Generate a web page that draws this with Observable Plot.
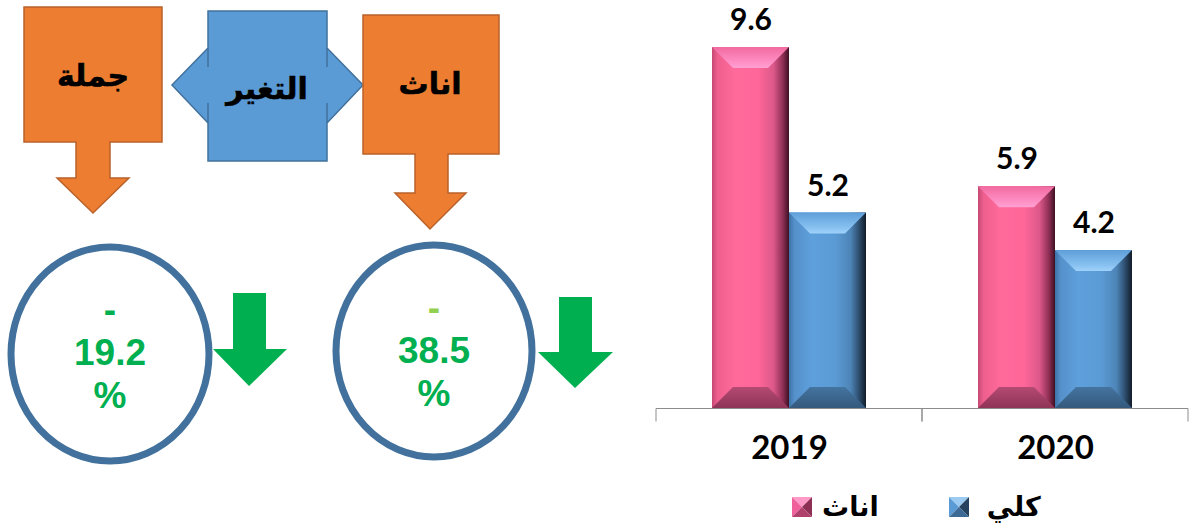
<!DOCTYPE html>
<html>
<head>
<meta charset="utf-8">
<script src="https://cdn.jsdelivr.net/npm/d3@7"></script>
<script src="https://cdn.jsdelivr.net/npm/@observablehq/plot@0.6"></script>
<style>
  html, body { margin: 0; padding: 0; background: #ffffff; }
  #wrap { position: relative; width: 1193px; height: 529px; background: #ffffff; overflow: hidden; }
  #info { position: absolute; left: 0; top: 0; }
  #chart { position: absolute; left: 640px; top: 0; }
  #legend { position: absolute; left: 792px; top: 491px; display: flex; align-items: center;
            font-family: "DejaVu Sans", sans-serif; font-weight: bold; font-size: 27px; color: #000; }
  #legend .item { display: flex; align-items: center; }
  #legend svg { display: block; }
</style>
</head>
<body>
<div id="wrap">
  <svg id="info" width="640" height="529"></svg>
  <div id="chart"></div>
  <div id="legend"></div>
</div>
<script>
// ---- data ----
const years = ["2019", "2020"];
const series = ["اناث", "كلي"];
const femaleValues = [9.6, 5.9];
const totalValues = [5.2, 4.2];

const headerLabel = "التغير";
const changeLabels = ["جملة", "اناث"];
const changeValues = [-19.2, -38.5];

const pink = "#FF6699";
const blue = "#5B9BD5";

const rows = years.flatMap((y, i) => [
  {year: y, series: series[0], value: femaleValues[i]},
  {year: y, series: series[1], value: totalValues[i]}
]);

// ---- bar chart ----
const chart = Plot.plot({
  width: 553,
  height: 480,
  marginLeft: 15,
  marginRight: 5,
  marginTop: 47,
  marginBottom: 72,
  facet: {data: rows, x: "year"},
  fx: {domain: years, padding: 0, axis: null},
  x: {domain: series, paddingInner: 0, paddingOuter: 0.727, axis: null},
  y: {domain: [0, 9.6], axis: null},
  color: {domain: series, range: [pink, blue]},
  style: {background: "transparent", overflow: "visible"},
  marks: [
    Plot.ruleY([0], {stroke: "#8c8c8c", strokeWidth: 1}),
    Plot.barY(rows, {x: "series", y: "value", fill: "series"}),
    Plot.text(rows, {x: "series", y: "value", text: d => d.value.toFixed(1), dy: -27,
      fontSize: 30, fontWeight: "bold", fontFamily: "Lato", fill: "#000"}),
    Plot.text(rows, {filter: d => d.series === series[0], frameAnchor: "bottom", text: "year",
      dy: 50, fontSize: 33, fontWeight: "bold", fontFamily: "Lato", fill: "#000"})
  ]
});
document.getElementById("chart").appendChild(chart);

// bevel styling
const cs = d3.select(chart);
const defs = cs.insert("defs", ":first-child");
function grad(id, stops, vertical) {
  const g = defs.append("linearGradient").attr("id", id)
    .attr("x1", 0).attr("y1", 0).attr("x2", vertical ? 0 : 1).attr("y2", vertical ? 1 : 0);
  stops.forEach(([o, c]) => g.append("stop").attr("offset", o).attr("stop-color", c));
}
grad("pinkSide", [[0, "#C44873"], [0.07, "#EE5F8E"], [0.3, "#FF6A9B"], [0.6, "#FF6699"], [0.8, "#DB5889"], [0.92, "#8E2F55"], [1, "#3E1022"]]);
grad("pinkTop", [[0, "#F06A9F"], [0.7, "#FF8EC4"], [1, "#FFA0D2"]], true);
grad("pinkBottom", [[0, "#B44A72"], [1, "#8F3457"]], true);
grad("blueSide", [[0, "#3C72A6"], [0.07, "#5590CA"], [0.3, "#5EA0DC"], [0.6, "#5B9BD5"], [0.8, "#4D84B6"], [0.92, "#2A4866"], [1, "#111C28"]]);
grad("blueTop", [[0, "#5E9ED8"], [0.7, "#86C0F0"], [1, "#9FD2FA"]], true);
grad("blueBottom", [[0, "#4474A0"], [1, "#34597C"]], true);

cs.selectAll('g[aria-label="bar"] rect').each(function() {
  const r = d3.select(this);
  const x = +r.attr("x"), y = +r.attr("y"), w = +r.attr("width"), h = +r.attr("height");
  const isPink = (r.attr("fill") || "").toLowerCase() === pink.toLowerCase();
  const k = isPink ? "pink" : "blue";
  r.attr("fill", `url(#${k}Side)`);
  const b = Math.min(21, w / 2, h / 2);
  const p = d3.select(this.parentNode);
  p.append("polygon")
    .attr("points", `${x},${y} ${x + w},${y} ${x + w - b},${y + b} ${x + b},${y + b}`)
    .attr("fill", `url(#${k}Top)`);
  p.append("polygon")
    .attr("points", `${x},${y + h} ${x + w},${y + h} ${x + w - b},${y + h - b} ${x + b},${y + h - b}`)
    .attr("fill", `url(#${k}Bottom)`);
});

// category ticks at the ends of each facet's axis line
cs.selectAll('g[aria-label="rule"] line').each(function() {
  const l = d3.select(this);
  const x1 = +l.attr("x1"), x2 = +l.attr("x2"), y = +l.attr("y1");
  const p = d3.select(this.parentNode);
  [x1, x2].forEach(xx => p.append("line")
    .attr("x1", xx).attr("x2", xx).attr("y1", y).attr("y2", y + 13)
    .attr("stroke", "#8c8c8c").attr("stroke-width", 1));
});

// ---- legend ----
const legend = d3.select("#legend");
const legendColors = {
  [series[0]]: ["#FF9AC8", "#F0609A", "#8E2F55", "#B0416C"],
  [series[1]]: ["#9CCBF2", "#5B9BD5", "#25425F", "#3D6A94"]
};
series.forEach((s, i) => {
  const item = legend.append("div").attr("class", "item").style("margin-right", i === 0 ? "70px" : "0");
  const sv = item.append("svg").attr("width", 20).attr("height", 20);
  const [top, left, right, bottom] = legendColors[s];
  sv.append("polygon").attr("points", "0,0 20,0 10,10").attr("fill", top);
  sv.append("polygon").attr("points", "0,0 10,10 0,20").attr("fill", left);
  sv.append("polygon").attr("points", "20,0 20,20 10,10").attr("fill", right);
  sv.append("polygon").attr("points", "0,20 10,10 20,20").attr("fill", bottom);
  item.append("span").style("margin-left", i === 0 ? "10px" : "18px").text(s);
});

// ---- change infographic ----
const info = d3.select("#info");
const orange = "#ED7D31", orangeStroke = "#B9622A";
const calloutBlue = "#5B9BD5", calloutBlueStroke = "#41719C";

info.append("path")
  .attr("d", "M208,11H327V48L363,85L327,123V161H208V123L172,85L208,48Z")
  .attr("fill", calloutBlue).attr("stroke", calloutBlueStroke).attr("stroke-width", 1.5);
[[208, 48, 67], [208, 103, 123], [327, 48, 67], [327, 103, 123]].forEach(([x, a, b]) =>
  info.append("line").attr("x1", x).attr("x2", x).attr("y1", a).attr("y2", b)
    .attr("stroke", calloutBlueStroke).attr("stroke-width", 1.5));

const callouts = [
  {d: "M24,7H162V142H110V178H129L93,213L57,178H76V142H24Z", tx: 93, ty: 86},
  {d: "M363,15H499V154H448V193H466L430,229L395,193H415V154H363Z", tx: 430, ty: 94}
];
const arabicStyle = sel => sel.attr("text-anchor", "middle")
  .attr("font-family", "DejaVu Sans").attr("font-weight", "bold").attr("font-size", 30)
  .attr("fill", "#000").attr("stroke", "#000").attr("stroke-width", 0.6);
callouts.forEach((c, i) => {
  info.append("path").attr("d", c.d)
    .attr("fill", orange).attr("stroke", orangeStroke).attr("stroke-width", 1.5);
  info.append("text").attr("x", c.tx).attr("y", c.ty).call(arabicStyle).text(changeLabels[i]);
});
info.append("text").attr("x", 267).attr("y", 99).call(arabicStyle).text(headerLabel);

const circles = [
  {cx: 110, cy: 354, rx: 99, ry: 107, base: 322, dash: "#00B050",
   arrow: "M233,293H266V349H287L249,386L213,349H233Z"},
  {cx: 434, cy: 351, rx: 98, ry: 106, base: 320, dash: "#92D050",
   arrow: "M559,297H592V352H613L575,388L538,352H559Z"}
];
circles.forEach((c, i) => {
  info.append("ellipse").attr("cx", c.cx).attr("cy", c.cy).attr("rx", c.rx).attr("ry", c.ry)
    .attr("fill", "none").attr("stroke", "#41719C").attr("stroke-width", 7);
  info.append("path").attr("d", c.arrow).attr("fill", "#00B050");
  const v = changeValues[i];
  const lines = [[v < 0 ? "-" : "+", c.dash], [Math.abs(v).toFixed(1), "#00B050"], ["%", "#00B050"]];
  lines.forEach(([t, col], j) => {
    info.append("text").attr("x", c.cx).attr("y", c.base + j * 43).attr("text-anchor", "middle")
      .attr("font-family", "Liberation Sans, Arial, sans-serif").attr("font-weight", "bold")
      .attr("font-size", 37).attr("fill", col).text(t);
  });
});
</script>
</body>
</html>
